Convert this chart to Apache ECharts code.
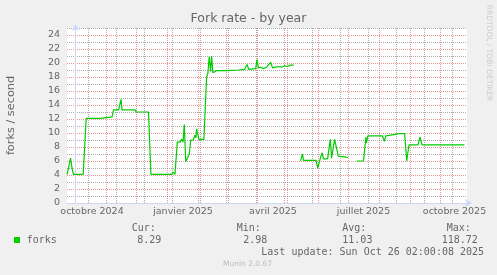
<!DOCTYPE html>
<html><head><meta charset="utf-8">
<script src="https://cdn.jsdelivr.net/npm/echarts@6/dist/echarts.min.js"></script>
<style>html,body{margin:0;padding:0;background:#F0F0F0;} #c{width:497px;height:275px;}</style>
</head><body><div id="c"></div>
<script>
// ---- data (x = days since 2024-10-01) ----
const chartTitle = 'Fork rate - by year';
const yAxisName = 'forks / second';
const seriesName = 'forks';
const days = [-8.3,-7.0,-5.0,-3.5,-2.0,7.7,10.7,24.9,25.5,36.5,38.1,43.1,45.5,46.5,59.7,60.5,73.0,75.4,96.3,97.6,99.5,101.8,104.5,106.2,107.5,108.8,110.2,111.5,113.8,115.2,117.8,119.4,120.4,121.1,122.7,123.4,128.4,131.1,132.4,133.7,135.1,136.1,137.4,138.7,141.0,152.0,153,163,165,169.2,171.5,173.2,180.2,181.5,182.9,185,188,191,193,195.1,197.1,200,203,206,209,212,215,218.3,
  221,
  225.0,227.0,228.0,240.6,242.2,242.9,244.9,246.6,247.9,252.1,254.8,256.1,259.1,261.1,262.8,268.5,269.8,272.4,
  277,
  281.0,288.0,290.4,290.9,292.3,293.6,306.9,308.9,310.3,324.2,329.2,331.2,332.2,333.5,342.5,344.5,346.5,388.9];
const forks = [4.1,4.2,6.4,5.0,4.1,4.1,12.1,12.1,12.3,12.3,13.3,13.3,14.8,13.3,13.3,13.0,13.0,4.1,4.1,4.4,4.1,8.7,8.7,9.1,8.7,11.2,5.9,6.3,7.0,9.0,9.0,9.7,9.3,10.6,9.5,9.1,9.1,18.0,18.5,20.9,18.8,21.0,18.6,18.8,18.9,18.9,19.0,19.0,19.1,19.1,19.8,19.1,19.2,20.5,19.3,19.4,19.2,19.4,19.3,20.1,19.3,19.4,19.5,19.4,19.6,19.5,19.7,19.7,
  null,
  6.0,7.0,6.1,6.1,5.0,5.0,6.4,7.2,6.3,6.3,9.1,6.4,9.1,9.0,6.7,6.6,6.4,6.5,
  null,
  6.0,6.0,9.4,8.6,9.6,9.5,9.6,8.8,9.6,9.9,9.9,6.0,7.0,8.3,8.3,9.4,8.3,8.3];
const monthLabels = ['octobre 2024','janvier 2025','avril 2025','juillet 2025','octobre 2025'];
const labelDays = [16.5, 107.5, 197.5, 288, 379];
const yLabelValues = [0,2,4,6,8,10,12,14,16,18,20,22,24];
const statHeaders = ['Cur:','Min:','Avg:','Max:'];
const statValues = ['8.29','2.98','11.03','118.72'];
const lastUpdate = 'Last update: Sun Oct 26 02:00:08 2025';
const watermark = 'RRDTOOL / TOBI OETIKER';
const footer = 'Munin 2.0.67';

// ---- derived ----
const DAY = 86400000;
const origin = Date.UTC(2024, 9, 1);
const monthStarts = [];
for (let i = 0; i <= 12; i++) monthStarts.push((Date.UTC(2024, 9 + i, 1) - origin) / DAY);
const minorDays = [];
for (let d = 13; d < 391; d += 28) minorDays.push(d);

const seriesData = days.map((d, i) => [d, forks[i]]);

const MAJOR = 'rgba(222,79,79,0.6)';
const MINOR = 'rgba(143,143,143,0.75)';
const AXIS = '#CFD6F8';
const FONT = '#666666';
const X_MIN = -8.5, X_MAX = 391.5;

// all vertical grid positions, sorted, with matching colours (used in turn by splitLine)
const vGrid = monthStarts.concat(minorDays).filter(d => d >= X_MIN && d <= X_MAX).sort((a, b) => a - b);
const vGridColors = vGrid.map(d => monthStarts.indexOf(d) >= 0 ? MAJOR : MINOR);

const chart = echarts.init(document.getElementById('c'));
const statX = [[131.7, 137.3], [236.7, 243.3], [342.3, 342.3], [446.7, 441.7]];
const graphics = [
  {type:'text', x:248.5, y:19, style:{text:chartTitle, font:'12.5px "DejaVu Sans"', fill:FONT, align:'center', verticalAlign:'middle'}},
  {type:'text', x:11, y:115.5, rotation:Math.PI/2, style:{text:yAxisName, font:'11.3px "DejaVu Sans"', fill:FONT, align:'center', verticalAlign:'middle'}},
  {type:'text', x:489, y:53, rotation:-Math.PI/2, style:{text:watermark, font:'7.5px "DejaVu Sans"', fill:'#cccccc', align:'center', verticalAlign:'middle'}},
  {type:'rect', shape:{x:14, y:237, width:6, height:6}, style:{fill:'#00CC00'}},
  {type:'text', x:26.7, y:240, style:{text:seriesName, font:'10px "DejaVu Sans Mono"', fill:FONT, align:'left', verticalAlign:'middle'}},
  {type:'text', x:261.3, y:252, style:{text:lastUpdate, font:'10px "DejaVu Sans Mono"', fill:FONT, align:'left', verticalAlign:'middle'}},
  {type:'text', x:247.5, y:264, style:{text:footer, font:'7.5px "DejaVu Sans"', fill:'#bbbbbb', align:'center', verticalAlign:'middle'}}
];
statHeaders.forEach((h, i) => {
  graphics.push({type:'text', x:statX[i][0], y:228, style:{text:h, font:'10px "DejaVu Sans Mono"', fill:FONT, align:'left', verticalAlign:'middle'}});
  graphics.push({type:'text', x:statX[i][1], y:240, style:{text:statValues[i], font:'10px "DejaVu Sans Mono"', fill:FONT, align:'left', verticalAlign:'middle'}});
});

chart.setOption({
  animation: false,
  backgroundColor: '#F0F0F0',
  grid: {left:67, top:28, right:30, bottom:72, show:true, backgroundColor:'#FFFFFF', borderWidth:0},
  xAxis: {
    type:'value', min:X_MIN, max:X_MAX,
    axisLine:{show:true, onZero:false, lineStyle:{color:AXIS, width:1}, symbol:['none','arrow'], symbolSize:[6,7], symbolOffset:[0,5]},
    axisTick:{show:false, customValues:vGrid},
    axisLabel:{customValues:labelDays, color:FONT, fontSize:9.5, fontFamily:'DejaVu Sans', margin:4,
      formatter:(v) => { let best=0; labelDays.forEach((d,i)=>{ if (Math.abs(d-v) < Math.abs(labelDays[best]-v)) best=i; }); return monthLabels[best]; }},
    splitLine:{show:true, lineStyle:{color:vGridColors, type:[1,1], width:1}}
  },
  yAxis: {
    type:'value', min:0, max:25, interval:1,
    axisLine:{show:true, lineStyle:{color:AXIS, width:1}, symbol:['none','arrow'], symbolSize:[6,7], symbolOffset:[0,4]},
    axisTick:{show:false},
    axisLabel:{color:FONT, fontSize:9.5, fontFamily:'DejaVu Sans', margin:7,
      formatter:(v) => yLabelValues.indexOf(v) >= 0 ? String(v) : ''},
    splitLine:{show:true, lineStyle:{color:[MAJOR, MINOR], type:[1,1], width:1}}
  },
  series: [
    {name:seriesName, type:'line', data:seriesData, showSymbol:false, connectNulls:false, z:3,
      lineStyle:{color:'#00CC00', width:1.2}, itemStyle:{color:'#00CC00'}}
  ],
  graphic: graphics
});
</script></body></html>
